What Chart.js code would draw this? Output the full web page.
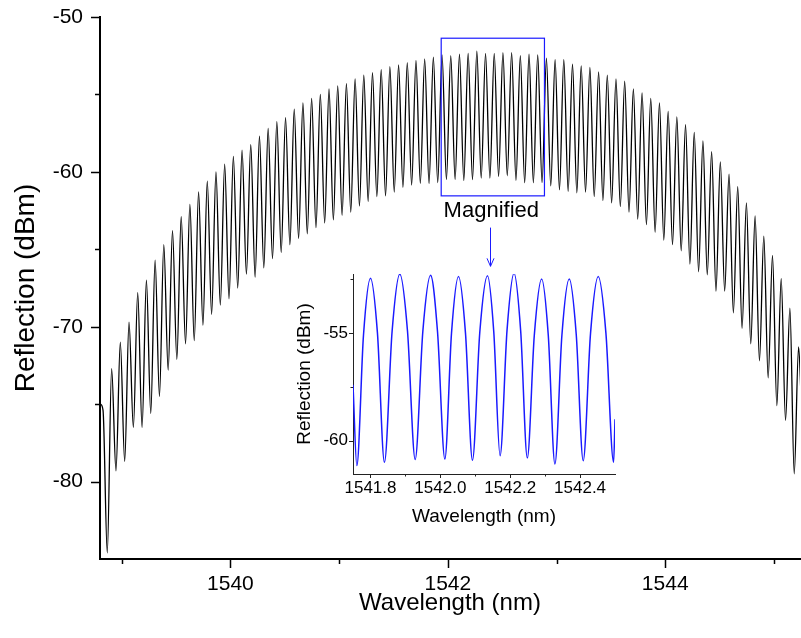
<!DOCTYPE html>
<html>
<head>
<meta charset="utf-8">
<title>Reflection spectrum</title>
<script src="https://cdn.jsdelivr.net/npm/chart.js@4.4.1/dist/chart.umd.min.js"></script>
<style>
    html, body { margin: 0; padding: 0; background: #fff; }
    #wrap { position: relative; width: 801px; height: 638px; }
    #main { position: absolute; left: 0; top: 0; }
    #inset { position: absolute; left: 290px; top: 250px; }
</style>
</head>
<body>
<div id="wrap">
    <canvas id="main" width="801" height="638"></canvas>
    <canvas id="inset" width="340" height="290"></canvas>
</div>
<script>
// Fringe minima of the measured comb (nm, dBm)
const troughWl = [1538.867, 1538.947, 1539.027, 1539.107, 1539.187, 1539.267, 1539.347, 1539.427, 1539.507, 1539.587,
    1539.667, 1539.747, 1539.827, 1539.907, 1539.987, 1540.067, 1540.147, 1540.227, 1540.307, 1540.387,
    1540.467, 1540.547, 1540.627, 1540.707, 1540.787, 1540.867, 1540.947, 1541.027, 1541.107, 1541.187,
    1541.267, 1541.347, 1541.427, 1541.507, 1541.587, 1541.667, 1541.747, 1541.827, 1541.907, 1541.987,
    1542.067, 1542.147, 1542.227, 1542.307, 1542.387, 1542.467, 1542.547, 1542.627, 1542.707, 1542.787,
    1542.867, 1542.947, 1543.027, 1543.107, 1543.187, 1543.267, 1543.347, 1543.427, 1543.507, 1543.587,
    1543.667, 1543.747, 1543.827, 1543.907, 1543.987, 1544.067, 1544.147, 1544.227, 1544.307, 1544.387,
    1544.467, 1544.547, 1544.627, 1544.707, 1544.787, 1544.867, 1544.947, 1545.027, 1545.107, 1545.187];
const troughDb = [-84.6, -79.3, -78.7, -76.5, -76.5, -75.6, -74.5, -72.8, -72.1, -71.1,
    -70.9, -69.9, -69.2, -68.6, -68.2, -67.5, -66.6, -66.8, -66.2, -65.6,
    -65.2, -64.7, -64.3, -64.0, -63.6, -63.3, -63.1, -62.8, -62.6, -62.2,
    -61.9, -61.6, -61.55, -61.3, -61.0, -60.85, -60.75, -60.75, -60.7, -60.5,
    -60.5, -60.55, -60.5, -60.4, -60.4, -60.3, -60.25, -60.55, -60.7, -60.7,
    -60.7, -60.9, -61.15, -61.25, -61.35, -61.3, -61.6, -61.85, -62.0, -62.25,
    -62.6, -63.05, -63.4, -63.9, -64.4, -64.7, -65.1, -65.95, -66.45, -66.65,
    -67.7, -67.7, -69.1, -70.1, -71.1, -72.2, -73.3, -75.1, -76.05, -79.5];

// Fringe maxima
const peakWl = [1538.907, 1538.987, 1539.067, 1539.147, 1539.227, 1539.307, 1539.387, 1539.467, 1539.547, 1539.627,
    1539.707, 1539.787, 1539.867, 1539.947, 1540.027, 1540.107, 1540.187, 1540.267, 1540.347, 1540.427,
    1540.507, 1540.587, 1540.667, 1540.747, 1540.827, 1540.907, 1540.987, 1541.067, 1541.147, 1541.227,
    1541.307, 1541.387, 1541.467, 1541.547, 1541.627, 1541.707, 1541.787, 1541.867, 1541.947, 1542.027,
    1542.107, 1542.187, 1542.267, 1542.347, 1542.427, 1542.507, 1542.587, 1542.667, 1542.747, 1542.827,
    1542.907, 1542.987, 1543.067, 1543.147, 1543.227, 1543.307, 1543.387, 1543.467, 1543.547, 1543.627,
    1543.707, 1543.787, 1543.867, 1543.947, 1544.027, 1544.107, 1544.187, 1544.267, 1544.347, 1544.427,
    1544.507, 1544.587, 1544.667, 1544.747, 1544.827, 1544.907, 1544.987, 1545.067, 1545.147, 1545.227];
const peakDb = [-72.7, -71.0, -69.7, -67.8, -67.0, -65.7, -64.7, -63.8, -62.9, -62.1,
    -61.3, -60.6, -60.0, -59.5, -59.0, -58.6, -58.25, -57.7, -57.2, -56.75,
    -56.5, -55.95, -55.55, -55.25, -55.0, -54.65, -54.45, -54.3, -54.0, -53.75,
    -53.6, -53.4, -53.2, -53.1, -52.95, -52.8, -52.7, -52.6, -52.45, -52.5,
    -52.4, -52.35, -52.2, -52.35, -52.35, -52.3, -52.3, -52.5, -52.4, -52.45,
    -52.65, -52.75, -52.75, -53.05, -53.15, -53.25, -53.55, -53.75, -54.0, -54.15,
    -54.65, -54.9, -55.25, -55.55, -56.1, -56.45, -56.95, -57.45, -58.0, -58.7,
    -59.35, -60.15, -60.95, -62.0, -62.85, -64.15, -65.4, -66.9, -68.8, -71.3];

// Samples at the two ends of the sweep
const edgeWl = [1538.805, 1538.828, 1545.25];
const edgeDb = [-75.0, -75.4, -74.5];

// Magnified section 1541.75 - 1542.5 nm
const insetWl = [1541.750, 1541.761, 1541.780, 1541.800, 1541.820, 1541.840, 1541.862, 1541.884, 1541.906, 1541.928,
    1541.950, 1541.972, 1541.992, 1542.013, 1542.032, 1542.052, 1542.072, 1542.092, 1542.113, 1542.135,
    1542.153, 1542.171, 1542.191, 1542.211, 1542.230, 1542.249, 1542.269, 1542.290, 1542.309, 1542.328,
    1542.348, 1542.369, 1542.389, 1542.409, 1542.430, 1542.452, 1542.474, 1542.496, 1542.500];
const insetDb = [-57.4, -61.16, -55.1, -52.45, -55.0, -61.0, -54.9, -52.25, -54.9, -60.88,
    -54.9, -52.31, -54.95, -60.85, -55.0, -52.37, -55.0, -60.91, -54.95, -52.33,
    -54.95, -60.7, -54.85, -52.21, -54.9, -60.8, -55.1, -52.48, -55.1, -61.08,
    -55.1, -52.48, -55.05, -60.93, -55.0, -52.37, -55.0, -61.0, -59.0];

// Axis ticks
const mainXLabels = [1540, 1542, 1544];
const mainXMinor = [1539, 1541, 1543, 1545];
const mainYLabels = [-80, -70, -60, -50];
const mainYMinor = [-75, -65, -55];
const insetXLabels = [1541.8, 1542.0, 1542.2, 1542.4];
const insetXMinor = [1541.9, 1542.1, 1542.3];
const insetYLabels = [-60, -55];
const insetYMinor = [-57.5, -52.5];

const FONT = "'Liberation Sans', Arial, Helvetica, sans-serif";
const BLUE = '#1a1aff';

function mergeSeries() {
    const pts = [];
    troughWl.forEach((wl, i) => pts.push({ x: wl, y: troughDb[i] }));
    peakWl.forEach((wl, i) => pts.push({ x: wl, y: peakDb[i] }));
    edgeWl.forEach((wl, i) => pts.push({ x: wl, y: edgeDb[i] }));
    pts.sort((a, b) => a.x - b.x);
    return pts;
}

// keep the plot area exactly where the layout padding puts it
function fixWidth(w) {
    return s => { s.width = w; s.paddingTop = 0; s.paddingBottom = 0; };
}
function fixHeight(h) {
    return s => { s.height = h; s.paddingLeft = 0; s.paddingRight = 0; };
}

// Outward tick marks, long for labelled values and short in between
const tickMarks = {
    id: 'tickMarks',
    afterDraw(chart, args, opts) {
        const { ctx, scales: { x, y } } = chart;
        ctx.save();
        ctx.strokeStyle = opts.color;
        ctx.lineWidth = opts.width;
        ctx.beginPath();
        const xTick = (v, len) => {
            const px = Math.round(x.getPixelForValue(v)) + 0.5;
            ctx.moveTo(px, x.top);
            ctx.lineTo(px, x.top + len);
        };
        const yTick = (v, len) => {
            const py = Math.round(y.getPixelForValue(v)) + 0.5;
            ctx.moveTo(y.right, py);
            ctx.lineTo(y.right - len, py);
        };
        opts.xMajor.forEach(v => xTick(v, opts.major));
        opts.xMinor.forEach(v => xTick(v, opts.minor));
        opts.yMajor.forEach(v => yTick(v, opts.major));
        opts.yMinor.forEach(v => yTick(v, opts.minor));
        ctx.stroke();
        ctx.restore();
    }
};

// Box around the zoomed region, with its caption and arrow
const callout = {
    id: 'callout',
    afterDatasetsDraw(chart) {
        const { ctx, scales: { x, y } } = chart;
        ctx.save();
        ctx.strokeStyle = BLUE;
        ctx.lineWidth = 1.2;
        const x0 = x.getPixelForValue(1541.939), x1 = x.getPixelForValue(1542.889);
        const y0 = y.getPixelForValue(-51.37), y1 = y.getPixelForValue(-61.55);
        ctx.strokeRect(x0, y0, x1 - x0, y1 - y0);

        ctx.fillStyle = '#000';
        ctx.font = '22px ' + FONT;
        ctx.textAlign = 'center';
        ctx.textBaseline = 'middle';
        ctx.fillText('Magnified', x.getPixelForValue(1542.40), y.getPixelForValue(-62.5));

        const ax = Math.round(x.getPixelForValue(1542.39)) + 0.5;
        const ay0 = y.getPixelForValue(-63.6), ay1 = y.getPixelForValue(-66.1);
        ctx.lineWidth = 1;
        ctx.beginPath();
        ctx.moveTo(ax, ay0);
        ctx.lineTo(ax, ay1);
        ctx.moveTo(ax - 3.5, ay1 - 8);
        ctx.lineTo(ax, ay1);
        ctx.lineTo(ax + 3.5, ay1 - 8);
        ctx.stroke();
        ctx.restore();
    }
};

const mainChart = new Chart(document.getElementById('main'), {
    type: 'line',
    data: {
        datasets: [{
            data: mergeSeries(),
            borderColor: '#000',
            borderWidth: 1.3,
            pointRadius: 0,
            cubicInterpolationMode: 'monotone',
            fill: false
        }]
    },
    options: {
        responsive: false,
        animation: false,
        events: [],
        layout: { padding: { top: 17, right: 1, left: 0, bottom: 0 } },
        plugins: {
            legend: { display: false },
            tooltip: { enabled: false },
            tickMarks: {
                xMajor: mainXLabels, xMinor: mainXMinor,
                yMajor: mainYLabels, yMinor: mainYMinor,
                major: 9, minor: 5, width: 1.5, color: '#000'
            }
        },
        scales: {
            x: {
                type: 'linear',
                min: 1538.8,
                max: 1545.24,
                afterBuildTicks: s => { s.ticks = mainXLabels.map(v => ({ value: v })); },
                afterFit: fixHeight(79),
                grid: { display: false, drawTicks: false },
                border: { display: true, color: '#000', width: 2 },
                ticks: {
                    color: '#000',
                    font: { family: FONT, size: 21 },
                    padding: 13,
                    maxRotation: 0,
                    autoSkip: false,
                    callback: v => String(v)
                },
                title: {
                    display: true,
                    text: 'Wavelength (nm)',
                    color: '#000',
                    font: { family: FONT, size: 24 },
                    padding: { top: 0, bottom: 20 }
                }
            },
            y: {
                type: 'linear',
                min: -85,
                max: -50,
                afterBuildTicks: s => { s.ticks = mainYLabels.map(v => ({ value: v })); },
                afterFit: fixWidth(100),
                grid: { display: false, drawTicks: false },
                border: { display: true, color: '#000', width: 2 },
                ticks: {
                    color: '#000',
                    font: { family: FONT, size: 21 },
                    padding: 17,
                    callback: v => String(v)
                },
                title: {
                    display: true,
                    text: 'Reflection (dBm)',
                    color: '#000',
                    font: { family: FONT, size: 28 },
                    padding: { top: 9, bottom: 0 }
                }
            }
        }
    },
    plugins: [tickMarks, callout]
});

const insetChart = new Chart(document.getElementById('inset'), {
    type: 'line',
    data: {
        datasets: [{
            data: insetWl.map((wl, i) => ({ x: wl, y: insetDb[i] })),
            borderColor: BLUE,
            borderWidth: 1.5,
            pointRadius: 0,
            cubicInterpolationMode: 'monotone',
            fill: false
        }]
    },
    options: {
        responsive: false,
        animation: false,
        events: [],
        layout: { padding: { top: 24, right: 15, left: 0, bottom: 0 } },
        plugins: {
            legend: { display: false },
            tooltip: { enabled: false },
            tickMarks: {
                xMajor: insetXLabels, xMinor: insetXMinor,
                yMajor: insetYLabels, yMinor: insetYMinor,
                major: 4, minor: 2.5, width: 1, color: '#222'
            }
        },
        scales: {
            x: {
                type: 'linear',
                min: 1541.75,
                max: 1542.5,
                afterBuildTicks: s => { s.ticks = insetXLabels.map(v => ({ value: v })); },
                afterFit: fixHeight(66),
                grid: { display: false, drawTicks: false },
                border: { display: true, color: '#222', width: 1 },
                ticks: {
                    color: '#000',
                    font: { family: FONT, size: 17 },
                    padding: 4,
                    maxRotation: 0,
                    autoSkip: false,
                    callback: v => v.toFixed(1)
                },
                title: {
                    display: true,
                    text: 'Wavelength (nm)',
                    color: '#000',
                    font: { family: FONT, size: 19 },
                    padding: { top: 0, bottom: 12 }
                }
            },
            y: {
                type: 'linear',
                min: -61.55,
                max: -52.25,
                afterBuildTicks: s => { s.ticks = insetYLabels.map(v => ({ value: v })); },
                afterFit: fixWidth(63),
                grid: { display: false, drawTicks: false },
                border: { display: true, color: '#222', width: 1 },
                ticks: {
                    color: '#000',
                    font: { family: FONT, size: 17 },
                    padding: 5,
                    callback: v => String(v)
                },
                title: {
                    display: true,
                    text: 'Reflection (dBm)',
                    color: '#000',
                    font: { family: FONT, size: 19 },
                    padding: { top: 3, bottom: 0 }
                }
            }
        }
    },
    plugins: [tickMarks]
});
</script>
</body>
</html>
